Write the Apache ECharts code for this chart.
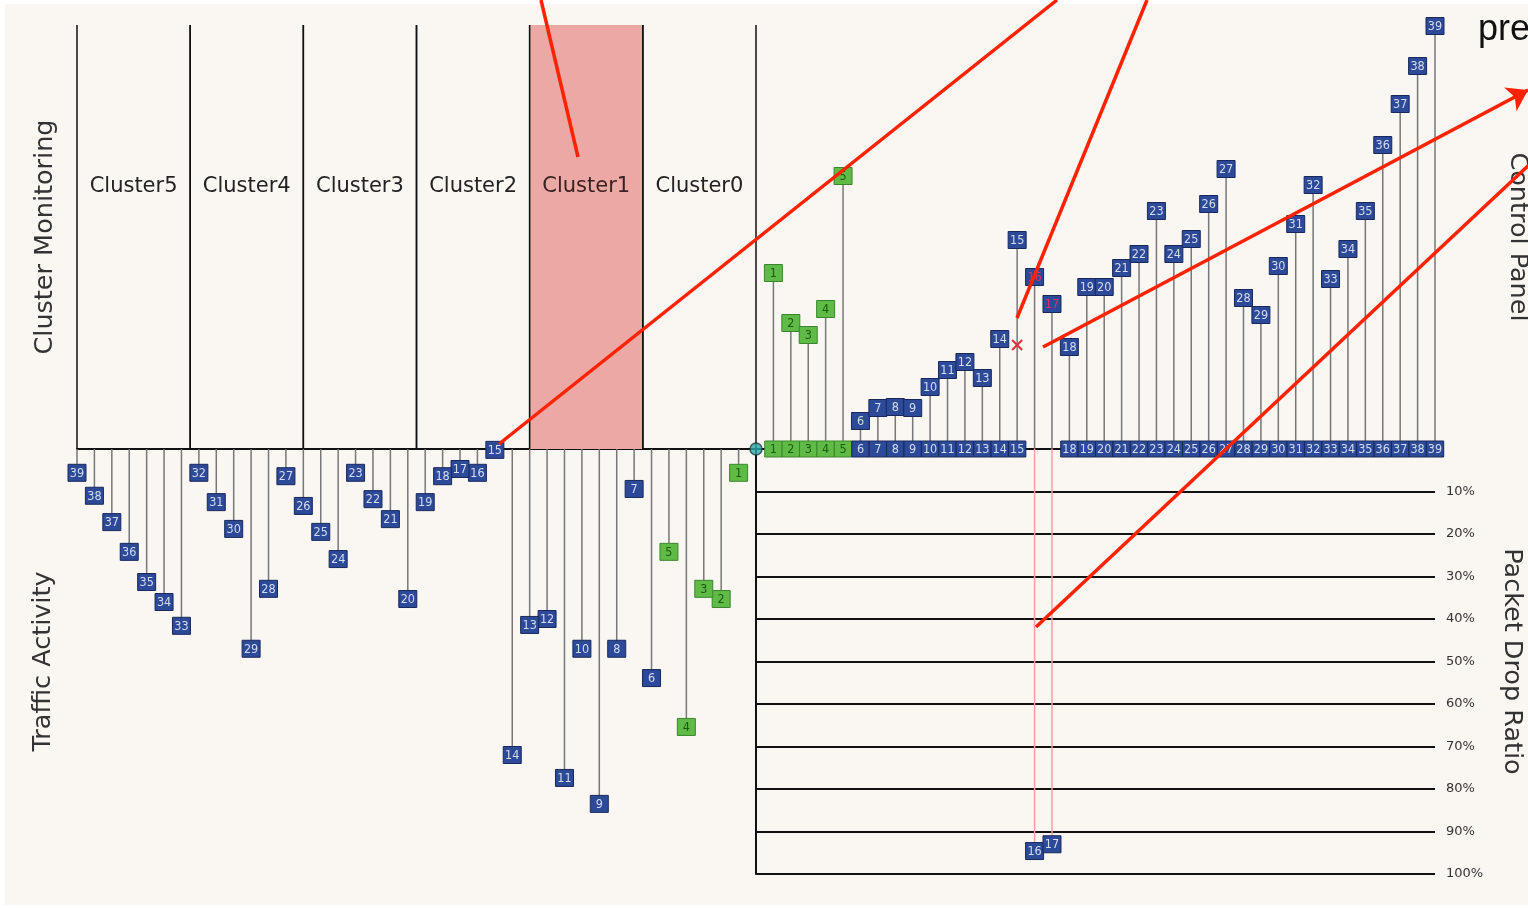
<!DOCTYPE html>
<html>
<head>
<meta charset="utf-8">
<style>
html,body{margin:0;padding:0;background:#ffffff;}
#bg{position:absolute;left:5px;top:4px;right:0;bottom:3px;background:#faf7f2;}
#c{position:absolute;left:0;top:0;width:1528px;height:908px;}
</style>
</head>
<body>
<div id="bg"></div>
<div id="c"></div>
<script src="https://cdn.jsdelivr.net/npm/echarts/dist/echarts.min.js"></script>
<script>
// ---------------- data ----------------
const NODE_IDS = [1,2,3,4,5,6,7,8,9,10,11,12,13,14,15,16,17,18,19,20,21,22,23,24,25,26,27,28,29,30,31,32,33,34,35,36,37,38,39];
// Control Panel (upper right), per node
const CONTROL_PANEL = [44,31.5,28.5,35,68.25,7,10.25,10.5,10.25,15.5,19.75,21.75,17.75,27.5,52.25,43,36.25,25.5,40.5,40.5,45.25,48.75,59.5,48.75,52.5,61.25,70,37.75,33.5,45.75,56.25,66,42.5,50,59.5,76,86.25,95.75,105.75];
// Traffic Activity (lower left), per node
const TRAFFIC = [5.6,35.3,32.9,65.4,24.2,53.9,9.4,47,83.5,47,77.4,40,41.4,72,0.2,5.6,4.7,6.4,12.5,35.3,16.5,11.8,5.6,25.9,19.5,13.4,6.4,32.9,47,18.8,12.5,5.6,41.6,36,31.3,24.2,17.2,11,5.6];
// Packet Drop Ratio (lower right)
const DROP_NODES = [16,17];
const DROP_RATIO = [94.6,93.0];
const GREEN_NODES = [1,2,3,4,5];
const ALERT_NODES = [16,17];
const FLAG_NODES = [15];
const FLAG_VALUES = [26];
const CLUSTERS = ['Cluster5','Cluster4','Cluster3','Cluster2','Cluster1','Cluster0'];
const ACTIVE_CLUSTER = 'Cluster1';
// annotation strokes (page pixel space)
const ANNOTATIONS = [
  [[541,0],[578,157]],
  [[1057,0],[499,444]],
  [[1147,0],[1017,318]],
  [[1036,627],[1530,164]]
];
const ARROW_ANNOTATION = [[1043,347],[1528,90]];

// ---------------- styles ----------------
const BLUE = {fill:'#2c4a98', stroke:'#18285c', text:'#d6dcf0'};
const GREEN = {fill:'#5fbb46', stroke:'#3a862d', text:'#1c5a12'};
const BOX_FONT = '"DejaVu Sans Condensed","DejaVu Sans",sans-serif';
const TITLE_STYLE = {fontSize:25.5, color:'#333', fontFamily:'"DejaVu Sans"'};
const N = NODE_IDS.length;

function boxEls(cx, cy, w, h, node, textColor){
  const pal = GREEN_NODES.indexOf(node) >= 0 ? GREEN : BLUE;
  return [
    {type:'rect', shape:{x:cx-w/2, y:cy-h/2, width:w, height:h},
     style:{fill:pal.fill, stroke:pal.stroke, lineWidth:1}},
    {type:'text', x:cx, y:cy+0.5,
     style:{text:String(node), align:'center', verticalAlign:'middle',
            fill:textColor || pal.text, fontSize:12.5, fontFamily:BOX_FONT}}
  ];
}

function stemRender(stemColor, labelFn, textColorFn){
  return function(params, api){
    const x = api.value(0), v = api.value(1);
    const b = api.coord([x, 0]);
    const e = api.coord([x, v]);
    const node = labelFn(params.dataIndex, x);
    return {type:'group', children:[
      {type:'line', shape:{x1:b[0], y1:b[1], x2:e[0], y2:e[1]},
       style:{stroke:stemColor, lineWidth:1.5}}
    ].concat(boxEls(e[0], e[1], 18, 17, node, textColorFn ? textColorFn(node) : null))};
  };
}

const chart = echarts.init(document.getElementById('c'), null, {renderer:'canvas'});

const clusterSpan = N / CLUSTERS.length;
const clusterData = CLUSTERS.map((c,i) => [-N + i*clusterSpan, -N + (i+1)*clusterSpan]);

const option = {
  backgroundColor:'transparent',
  animation:false,
  grid:[
    {left:77, right:93, top:25, height:424, outerBoundsMode:'none', containLabel:false},
    {left:77, right:93, top:449, height:425, outerBoundsMode:'none', containLabel:false},
    {left:756, right:93, top:449, height:425, outerBoundsMode:'none', containLabel:false},
    {left:0, top:0, width:1528, height:908, outerBoundsMode:'none', containLabel:false}
  ],
  xAxis:[
    {gridIndex:0, type:'value', min:-N, max:N, axisLine:{show:true, onZero:false, lineStyle:{color:'#111', width:2}},
     axisTick:{show:false}, axisLabel:{show:false}, splitLine:{show:false}},
    {gridIndex:1, type:'value', min:-N, max:N, show:false},
    {gridIndex:2, type:'value', min:0, max:N, show:false},
    {gridIndex:3, type:'value', min:0, max:1528, show:false}
  ],
  yAxis:[
    {gridIndex:0, type:'value', min:0, max:106, axisLine:{show:false}, axisTick:{show:false},
     axisLabel:{show:false}, splitLine:{show:false},
     name:'Cluster Monitoring', nameLocation:'middle', nameGap:19, nameTextStyle:TITLE_STYLE},
    {gridIndex:0, type:'value', min:0, max:106, position:'right', axisLine:{show:false}, axisTick:{show:false},
     axisLabel:{show:false}, splitLine:{show:false},
     name:'Control Panel', nameLocation:'middle', nameGap:70, nameRotate:-90, nameTextStyle:TITLE_STYLE},
    {gridIndex:1, type:'value', min:0, max:100, inverse:true, axisLine:{show:false}, axisTick:{show:false},
     axisLabel:{show:false}, splitLine:{show:false},
     name:'Traffic Activity', nameLocation:'middle', nameGap:21, nameTextStyle:TITLE_STYLE},
    {gridIndex:2, type:'value', min:0, max:100, interval:10, inverse:true, position:'left',
     axisLine:{show:true, lineStyle:{color:'#111', width:2}}, axisTick:{show:false},
     axisLabel:{show:false}, splitLine:{show:true, lineStyle:{color:'#111', width:2}}},
    {gridIndex:2, type:'value', min:0, max:100, interval:10, inverse:true, position:'right',
     axisLine:{show:false}, axisTick:{show:false}, splitLine:{show:false},
     axisLabel:{show:true, margin:11, color:'#333', fontSize:13, fontFamily:'"DejaVu Sans"',
       formatter: v => v === 0 ? '' : v + '%'},
     name:'Packet Drop Ratio', nameLocation:'middle', nameGap:64, nameRotate:-90, nameTextStyle:TITLE_STYLE},
    {gridIndex:3, type:'value', min:0, max:908, inverse:true, show:false}
  ],
  graphic:[
    {type:'text', left:1478, top:12, z:200,
     style:{text:'pre', fontSize:36, fill:'#111', fontFamily:'"Liberation Sans",sans-serif'}}
  ],
  series:[
    // cluster columns
    {type:'custom', xAxisIndex:0, yAxisIndex:0, z:1, data:clusterData,
     renderItem:function(params, api){
       const x0 = api.value(0), x1 = api.value(1);
       const tl = api.coord([x0, 106]), br = api.coord([x1, 0]);
       const name = CLUSTERS[params.dataIndex];
       const active = name === ACTIVE_CLUSTER;
       const lp = api.coord([(x0+x1)/2, 65.5]);
       const ch = [];
       if (active) ch.push({type:'rect', shape:{x:tl[0], y:tl[1], width:br[0]-tl[0], height:br[1]-tl[1]},
                            style:{fill:'#eba8a4'}});
       ch.push({type:'line', shape:{x1:tl[0], y1:tl[1], x2:tl[0], y2:br[1]}, style:{stroke:'#111', lineWidth:1.5}});
       ch.push({type:'line', shape:{x1:br[0], y1:tl[1], x2:br[0], y2:br[1]}, style:{stroke:'#111', lineWidth:1.5}});
       ch.push({type:'text', x:lp[0], y:lp[1],
                style:{text:name, align:'center', verticalAlign:'middle', fill: active ? '#3a2222' : '#222',
                       fontSize:21, fontFamily:'"DejaVu Sans"'}});
       return {type:'group', children:ch};
     }},
    // control panel stems
    {type:'custom', xAxisIndex:0, yAxisIndex:0, z:5,
     data: NODE_IDS.map((n,i) => [n, CONTROL_PANEL[i]]),
     renderItem: stemRender('#777', (i) => NODE_IDS[i], (n) => ALERT_NODES.indexOf(n) >= 0 ? '#d8336a' : null)},
    // baseline row
    {type:'custom', xAxisIndex:0, yAxisIndex:0, z:6,
     data: NODE_IDS.filter(n => DROP_NODES.indexOf(n) < 0).map(n => [n, 0]),
     renderItem:function(params, api){
       const x = api.value(0);
       const p = api.coord([x, 0]);
       const w = api.size([1, 0])[0];
       return {type:'group', children: boxEls(p[0], p[1], w, 16, x)};
     }},
    // traffic activity stems
    {type:'custom', xAxisIndex:1, yAxisIndex:2, z:5,
     data: NODE_IDS.map((n,i) => [-n, TRAFFIC[i]]),
     renderItem: stemRender('#777', (i) => NODE_IDS[i])},
    // drop ratio stems
    {type:'custom', xAxisIndex:2, yAxisIndex:3, z:5,
     data: DROP_NODES.map((n,i) => [n, DROP_RATIO[i]]),
     renderItem: stemRender('#f2a0a0', (i) => DROP_NODES[i])},
    // origin marker
    {type:'scatter', xAxisIndex:0, yAxisIndex:0, z:8, data:[[0,0]], symbolSize:12,
     itemStyle:{color:'#2aa8aa', borderColor:'#1f3a3a', borderWidth:1.5}},
    // flag marker (x)
    {type:'custom', xAxisIndex:0, yAxisIndex:0, z:8,
     data: FLAG_NODES.map((n,i) => [n, FLAG_VALUES[i]]),
     renderItem:function(params, api){
       const p = api.coord([api.value(0), api.value(1)]);
       const s = 5;
       return {type:'group', children:[
         {type:'line', shape:{x1:p[0]-s, y1:p[1]-s, x2:p[0]+s, y2:p[1]+s}, style:{stroke:'#e0303a', lineWidth:2}},
         {type:'line', shape:{x1:p[0]-s, y1:p[1]+s, x2:p[0]+s, y2:p[1]-s}, style:{stroke:'#e0303a', lineWidth:2}}
       ]};
     }},
    // annotations
    {type:'lines', coordinateSystem:'cartesian2d', xAxisIndex:3, yAxisIndex:5, z:100,
     symbol:'none', lineStyle:{color:'#ff2200', width:3.5, opacity:1},
     data: ANNOTATIONS.map(c => ({coords:c}))},
    {type:'lines', coordinateSystem:'cartesian2d', xAxisIndex:3, yAxisIndex:5, z:100,
     symbol:['none','arrow'], symbolSize:[14,20], lineStyle:{color:'#ff2200', width:3.5, opacity:1},
     itemStyle:{color:'#ff2200'},
     data:[{coords:ARROW_ANNOTATION}]}
  ]
};
chart.setOption(option);
</script>
</body>
</html>
